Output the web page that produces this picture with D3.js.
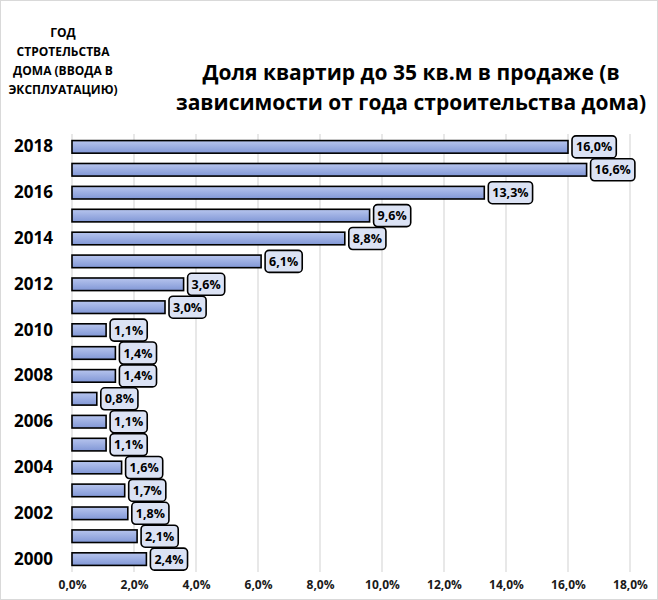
<!DOCTYPE html>
<html><head><meta charset="utf-8">
<script src="https://cdn.jsdelivr.net/npm/d3@7"></script>
<style>
body{margin:0;background:#fff;}
text{font-family:"Open Sans","Noto Sans",sans-serif;font-weight:bold;}
</style></head>
<body>
<svg id="c" width="658" height="600"></svg>
<script>
const years = ["2018","2017","2016","2015","2014","2013","2012","2011","2010","2009","2008","2007","2006","2005","2004","2003","2002","2001","2000"];
const values = [16.0,16.6,13.3,9.6,8.8,6.1,3.6,3.0,1.1,1.4,1.4,0.8,1.1,1.1,1.6,1.7,1.8,2.1,2.4];
const yearLabels = ["2018","2016","2014","2012","2010","2008","2006","2004","2002","2000"];
const xTicks = [0,2,4,6,8,10,12,14,16,18];
const titleLines = ["Доля квартир до 35 кв.м в продаже (в","зависимости от года строительства дома)"];
const axisTitleLines = ["ГОД","СТРОТЕЛЬСТВА","ДОМА (ВВОДА В","ЭКСПЛУАТАЦИЮ)"];

const svg = d3.select("#c");
const W = 658, H = 600;
svg.append("rect").attr("x",0.5).attr("y",0.5).attr("width",W-1).attr("height",H-1)
  .attr("fill","#fff").attr("stroke","#d9d9d9");

const defs = svg.append("defs");
const g1 = defs.append("linearGradient").attr("id","bg").attr("x1",0).attr("y1",0).attr("x2",0).attr("y2",1);
g1.append("stop").attr("offset","0%").attr("stop-color","#b7c5ee");
g1.append("stop").attr("offset","100%").attr("stop-color","#8197d6");

const fmt = v => d3.format(".1f")(v).replace(".",",") + "%";

const x = d3.scaleLinear().domain([0,18]).range([72,630]);
const y = d3.scaleBand().domain(years).range([136,570]).paddingInner(0.45).paddingOuter(0.2);

// gridlines
svg.append("g").selectAll("line").data(xTicks).join("line")
  .attr("x1",d=>x(d)).attr("x2",d=>x(d)).attr("y1",134).attr("y2",572)
  .attr("stroke","#d9d9d9").attr("stroke-width",1.2);

// x axis
const xAxis = d3.axisBottom(x).tickValues(xTicks).tickFormat(d=>fmt(d)).tickSize(0).tickPadding(0);
const xa = svg.append("g").attr("transform","translate(0,585)").call(xAxis);
xa.select(".domain").remove();
xa.selectAll("text").attr("font-size",12).attr("fill","#1a1a1a").attr("dy","0.32em");

// y axis
const yAxis = d3.axisLeft(y).tickValues(yearLabels).tickSize(0).tickPadding(0);
const ya = svg.append("g").attr("transform","translate(53,0)").call(yAxis);
ya.select(".domain").remove();
ya.selectAll("text").attr("font-size",17).attr("fill","#000").attr("text-anchor","end");

// bars
svg.append("g").selectAll("rect").data(years).join("rect")
  .attr("x",x(0)).attr("y",(d)=>y(d))
  .attr("width",(d,i)=>x(values[i])-x(0)).attr("height",y.bandwidth())
  .attr("fill","url(#bg)").attr("stroke","#000").attr("stroke-width",1.6);

// labels
const lg = svg.append("g").selectAll("g").data(years).join("g")
  .attr("transform",(d,i)=>`translate(${x(values[i])+4},${y(d)+y.bandwidth()/2})`);
lg.each(function(d,i){
  const s = d3.select(this);
  const t = s.append("text").text(fmt(values[i])).attr("font-size",12.5).attr("fill","#000")
    .attr("x",4).attr("dy","0.36em");
  const w = t.node().getComputedTextLength();
  s.insert("rect","text").attr("x",0).attr("y",-11).attr("width",w+8).attr("height",22)
    .attr("rx",4).attr("fill","#dbe2f4").attr("stroke","#000").attr("stroke-width",1.6);
});

// title
svg.append("g").selectAll("text").data(titleLines).join("text")
  .attr("x",411).attr("y",(d,i)=>80+i*30).attr("text-anchor","middle")
  .attr("font-size",21).attr("fill","#000").text(d=>d);

// axis title
svg.append("g").selectAll("text").data(axisTitleLines).join("text")
  .attr("x",63).attr("y",(d,i)=>37+i*19).attr("text-anchor","middle")
  .attr("font-size",12).attr("fill","#000").text(d=>d);
</script>
</body></html>
